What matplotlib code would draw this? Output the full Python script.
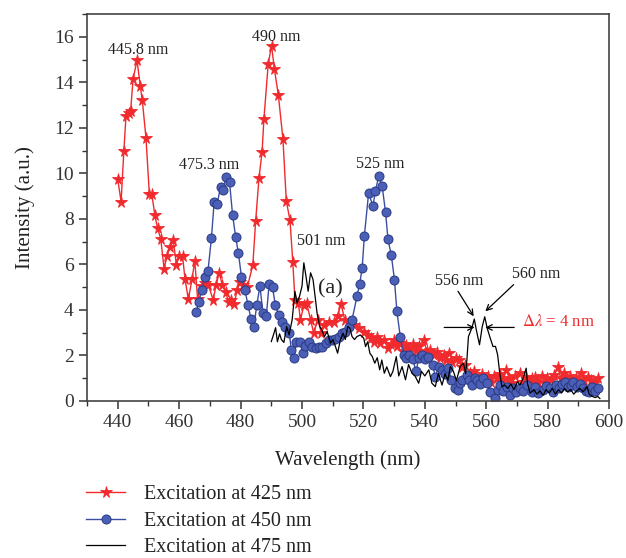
import matplotlib
matplotlib.use("Agg")
import matplotlib.pyplot as plt
from matplotlib.ticker import MultipleLocator

plt.rcParams['font.family'] = ['Liberation Serif', 'DejaVu Serif']
plt.rcParams['mathtext.fontset'] = 'stix'

# excitation at 425 nm
wl_425 = [440, 441.1, 442, 442.7, 443.7, 444.2, 445, 446.3, 447.3, 448, 449.2, 450.3, 451.1, 452.1,
          453, 454, 455.1, 456, 456.9, 458.1, 459.1, 460, 461.1, 461.9, 463, 464.2, 465.1, 466, 467.3,
          468.4, 469.5, 471.1, 472, 473.1, 474, 475.2, 476.1, 477, 477.9, 478.9, 479.8, 480.9, 482.2,
          484, 484.9, 486, 487, 487.6, 489, 490.1, 491, 492.3, 493.8, 494.9, 496.1, 497, 497.7, 498.8,
          499.5, 500.6, 501.5, 502.8, 503.8, 505.2, 506.3, 507.3, 508.7, 510.3, 511.6, 512.7, 513.9,
          515.2, 516.8, 518.5, 520.1, 521.4, 522.5, 523.5, 524.5, 525.5, 526.7, 527.9, 528.9, 529.9,
          531, 532, 533, 534, 535, 536, 537, 538, 539.6, 540.6, 541.8, 543, 543.9, 545, 546.1, 547,
          548, 549, 550, 551, 552, 553, 554.8, 556, 557.5, 558.5, 559.5, 560.5, 561.5, 562.5, 563.5,
          564.5, 565.5, 566.5, 567.5, 568.5, 569.5, 571, 572, 573, 574, 575, 576, 577, 578, 579, 579.8,
          581, 582, 583.3, 584.2, 585.2, 586.2, 587.2, 588.2, 589.2, 590.8, 591.8, 593, 594, 595.2, 596.5]
int_425 = [9.74, 8.76, 10.99, 12.53, 12.64, 12.75, 14.15, 14.97, 13.85, 13.22, 11.55, 9.09, 9.09, 8.15,
           7.58, 7.13, 5.80, 6.36, 6.76, 7.05, 5.98, 6.36, 6.39, 5.36, 4.46, 5.36, 6.17, 4.49, 5.07,
           5.2, 5.11, 4.42, 5.11, 5.63, 5.11, 4.77, 4.33, 4.45, 4.27, 4.88, 5.24, 5.1, 5.0,
           5.98, 7.89, 9.8, 10.94, 12.38, 14.81, 15.61, 14.59, 13.44, 11.5, 8.78, 7.93, 6.11, 4.45, 4.30,
           3.57, 4.20, 4.30, 3.57, 2.98, 3.57, 2.98, 3.35, 3.49, 3.49, 3.72, 4.27, 3.57,
           3.49, 3.35, 3.20, 3.05, 2.91, 2.75, 2.6, 2.8, 2.55, 2.7, 2.32, 2.5, 2.69,
           2.4, 2.55, 2.2, 2.45, 2.3, 2.5, 2.2, 2.4, 2.69, 2.2, 2.25, 2.0, 2.17, 1.9, 2.03, 1.8,
           2.1, 1.7, 1.9, 1.81, 1.5, 1.6, 1.22, 1.3, 1.0, 1.2, 0.9, 1.1, 0.85, 1.1, 1.0,
           1.2, 0.9, 1.37, 1.0, 0.8, 1.1, 1.22, 0.85, 1.05, 0.8, 1.0, 1.07, 0.85, 1.1, 0.8, 1.0,
           0.9, 1.15, 1.51, 1.0, 1.22, 0.9, 1.1, 0.8, 1.0, 1.25, 0.9, 1.05, 0.93, 0.8, 1.03]

# excitation at 450 nm
wl_450 = [465.5, 466.4, 467.3, 468.4, 469.4, 470.5, 471.4, 472.4, 473.5, 474.3, 475.3, 476.4, 477.4,
          478.4, 479.3, 480.3, 481.4, 482.4, 483.4, 484.3, 485.3, 486.3, 487.3, 488.4, 489.3, 490.4,
          491.3, 492.4, 493.6, 494.6, 495.9, 496.5, 497.3, 498.2, 499.5, 500.4, 501.1, 502.2, 503.3,
          504.4, 505.5, 506.6, 507.7, 508.7, 509.8, 510.9, 512, 513.1, 514.1, 515.2, 516.3, 517.9,
          518.8, 519.6, 520.3, 521.7, 523.1, 523.9, 525, 526.1, 527.2, 528, 529.1, 530.1, 530.9, 532,
          533.1, 534, 535, 536, 537.2, 538, 539, 540, 541, 542.5, 543.4, 544.5, 545.6, 546.6, 547.6,
          548.6, 549.9, 550.7, 551.5, 552.1, 553.7, 554.5, 555.3, 556.2, 557, 558, 559, 560.2, 561.3,
          562.9, 563.8, 564.6, 565.6, 566.7, 567.8, 568.8, 569.8, 571.1, 572.1, 573.2, 574.9, 575.9,
          576.8, 578.6, 579.6, 580.8, 581.8, 582.8, 583.8, 584.8, 585.7, 586.7, 587.5, 588.4, 589.4,
          590.4, 591.4, 592.4, 593.3, 594.3, 595.4, 596.5]
int_450 = [3.89, 4.33, 4.86, 5.45, 5.73, 7.14, 8.74, 8.67, 9.42, 9.26, 9.84, 9.62, 8.17,
           7.21, 6.48, 5.45, 4.89, 4.23, 3.6, 3.25, 4.23, 5.04, 3.86, 3.75, 5.14, 4.99,
           4.23, 3.79, 3.45, 3.27, 2.98, 2.25, 1.88, 2.57, 2.61, 2.10, 2.42, 2.61, 2.39,
           2.32, 2.39, 2.39, 2.54, 2.69, 2.7, 2.72, 2.83, 2.98, 3.05, 3.27, 3.57, 4.6,
           5.16, 5.85, 7.24, 9.15, 8.56, 9.22, 9.88, 9.44, 8.30, 7.10, 6.40, 5.33, 3.94, 2.83,
           2.03, 1.9, 2.0, 1.85, 1.3, 1.9, 2.0, 1.85, 1.95, 1.6, 1.07, 1.5, 1.37, 1.2, 1.45,
           0.9, 0.56, 0.48, 0.8, 0.93, 1.15, 0.9, 0.7, 1.0, 0.93, 0.75, 1.0, 0.78, 0.41,
           0.11, 0.5, 0.70, 0.45, 0.6, 0.26, 0.55, 0.4, 0.56, 0.45, 0.70, 0.41, 0.6,
           0.35, 0.48, 0.65, 0.56, 0.4, 0.7, 0.55, 0.75, 0.85, 0.6, 0.7, 0.85, 0.6,
           0.75, 0.55, 0.45, 0.41, 0.6, 0.45, 0.56]

# excitation at 475 nm
wl_475 = [490, 490.7, 491.4, 492, 492.7, 493.3, 494.1, 495, 495.8, 496.8, 497.7, 498.4, 499.2, 500,
          500.6, 501.3, 502, 502.8, 503.6, 504.4, 504.9, 505.8, 506.5, 507.3, 508.2, 509.3, 510.1,
          510.9, 511.6, 512.5, 513.4, 514.1, 514.9, 515.6, 516.3, 517.1, 517.9, 519, 520.1, 520.7,
          521.4, 522.1, 522.9, 523.7, 524.5, 525.3, 526, 526.8, 527.6, 528.8, 529.6, 530.7, 531.5,
          532.6, 533.7, 534.7, 535.8, 536.8, 538, 538.9, 540, 541.3, 542.3, 543.4, 544.4, 545.6,
          546.6, 547.5, 548.3, 549.3, 550.3, 551.5, 552.6, 553.3, 553.7, 554.2, 555.3, 556.1, 556.8,
          557.8, 558.7, 559.5, 560.3, 561.3, 562.2, 563, 563.7, 564.4, 565.1, 566, 567, 568, 569,
          570.2, 571, 572, 573, 573.4, 574.3, 575.5, 576.5, 577.5, 578.5, 579.5, 580.5, 581.5, 582.5,
          583.5, 584.5, 585.5, 586.5, 587.5, 588.5, 589.5, 590.5, 591.5, 592.8, 593.5, 594.5, 595.5,
          596.3, 597]
int_475 = [2.61, 2.9, 3.22, 2.6, 2.95, 2.7, 2.57, 3.27, 2.9, 3.57, 4.82, 4.30, 4.6, 5.04,
           6.07, 5.48, 4.82, 5.63, 5.33, 4.45, 3.86, 3.27, 3.1, 2.83, 3.05, 2.54, 2.7,
           2.39, 2.10, 2.69, 2.98, 2.7, 3.27, 3.2, 2.83, 2.7, 2.83, 2.9, 2.76, 2.39,
           2.6, 2.10, 1.95, 1.66, 1.9, 1.37, 1.8, 1.22, 1.5, 1.07, 1.3, 1.95, 1.1,
           1.51, 0.93, 1.6, 1.22, 1.1, 0.78, 1.3, 1.1, 1.37, 0.78, 0.63, 1.2, 0.70,
           1.2, 0.9, 1.51, 1.3, 0.9, 1.51, 1.66, 1.2, 1.81, 2.83, 3.20, 3.6, 3.1,
           2.47, 3.27, 3.7, 3.2, 2.76, 2.39, 2.4, 2.03, 1.22, 0.63, 0.7, 0.55, 0.75, 0.5,
           0.85, 0.7, 1.0, 1.44, 0.78, 0.34, 0.5, 0.3, 0.45, 0.25, 0.5, 0.35, 0.55, 0.3,
           0.5, 0.35, 0.55, 0.4, 0.5, 0.3, 0.45, 0.55, 0.4, 0.63, 0.3, 0.2, 0.15,
           0.2, 0.11]

fig = plt.figure(figsize=(6.26, 5.58), dpi=100)
ax = fig.add_axes([0.139, 0.2814, 0.834, 0.6935])

ax.plot(wl_425, int_425, color='#f02a2d', lw=1.0, marker='*', ms=8.5,
        markeredgewidth=0.6, label='Excitation at 425 nm')
ax.plot(wl_450, int_450, color='#3b4ea2', lw=1.0, marker='o', ms=6.5,
        markerfacecolor='#4a5fb5', markeredgecolor='#2a3a85', markeredgewidth=0.7,
        label='Excitation at 450 nm')
ax.plot(wl_475, int_475, color='black', lw=0.9, label='Excitation at 475 nm')

ax.set_xlim(430, 600)
ax.set_ylim(0, 17)
ax.xaxis.set_major_locator(MultipleLocator(20))
ax.xaxis.set_minor_locator(MultipleLocator(10))
ax.yaxis.set_major_locator(MultipleLocator(2))
ax.yaxis.set_minor_locator(MultipleLocator(1))
ax.tick_params(which='major', direction='out', length=6, width=1.1, labelsize=14,
               colors='#333333')
ax.tick_params(which='minor', direction='out', length=3.5, width=1.0, colors='#333333')
for sp in ax.spines.values():
    sp.set_color('#444444')
    sp.set_linewidth(1.2)

ax.set_xlabel('Wavelength (nm)', fontsize=15, color='#222222', labelpad=14)
ax.set_ylabel('Intensity (a.u.)', fontsize=15, color='#222222', labelpad=14)

# peak labels
ax.text(446.7, 15.4, '445.8 nm', fontsize=11.5, ha='center', va='center', color='#222222')
ax.text(491.7, 16.0, '490 nm', fontsize=11.5, ha='center', va='center', color='#222222')
ax.text(469.8, 10.36, '475.3 nm', fontsize=11.5, ha='center', va='center', color='#222222')
ax.text(525.5, 10.43, '525 nm', fontsize=11.5, ha='center', va='center', color='#222222')
ax.text(506.3, 7.02, '501 nm', fontsize=11.5, ha='center', va='center', color='#222222')
ax.text(509.3, 4.92, '(a)', fontsize=16, ha='center', va='center', color='#222222')
ax.text(551.2, 5.26, '556 nm', fontsize=11.5, ha='center', va='center', color='#222222')
ax.text(576.3, 5.6, '560 nm', fontsize=11.5, ha='center', va='center', color='#222222')
ax.text(571.5, 3.45, r'$\Delta\lambda$ = 4 nm', fontsize=12, ha='left', va='center',
        color='#f02a2d')

arrow = dict(arrowstyle='->', lw=0.9, color='black', shrinkA=0, shrinkB=0)
ax.annotate('', xy=(555.9, 3.72), xytext=(550.8, 4.82), arrowprops=arrow)
ax.annotate('', xy=(559.7, 3.94), xytext=(568.9, 5.11), arrowprops=arrow)
ax.annotate('', xy=(556.2, 3.23), xytext=(546.3, 3.23), arrowprops=arrow)
ax.annotate('', xy=(559.7, 3.23), xytext=(569.1, 3.23), arrowprops=arrow)

fig.legend(loc='upper left', bbox_to_anchor=(0.1375, 0.131), frameon=False,
           fontsize=14.5, handlelength=1.95, handletextpad=0.95, labelspacing=0.38,
           borderaxespad=0, borderpad=0, labelcolor='#222222')

fig.savefig('out.png', dpi=100)
